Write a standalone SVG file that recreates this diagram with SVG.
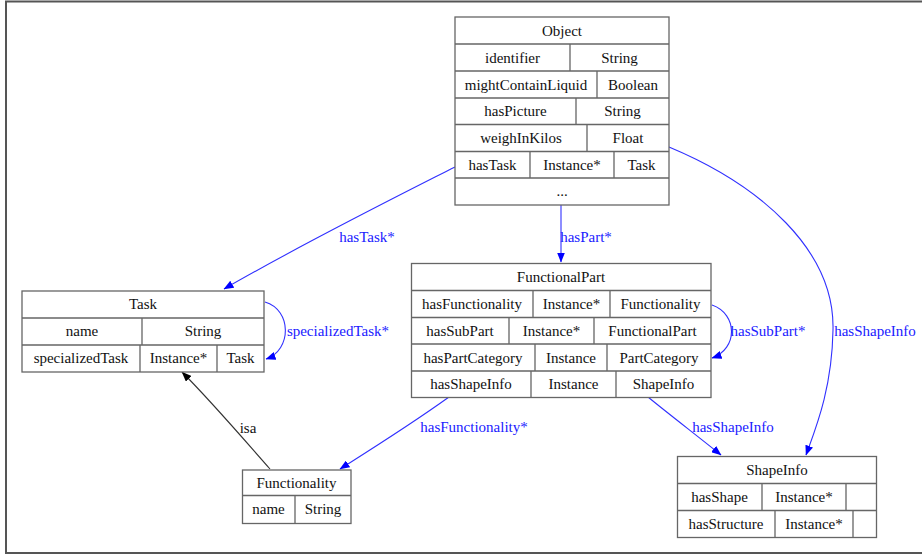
<svg xmlns="http://www.w3.org/2000/svg" width="922" height="555" viewBox="0 0 922 555">
<style>
.box{fill:#fff;stroke:#666;stroke-width:1.3}
.ln{stroke:#666;stroke-width:1.3;fill:none}
.t{font-family:"Liberation Serif","Times New Roman",serif;font-size:15px;fill:#111;text-anchor:middle}
.lb{font-family:"Liberation Serif","Times New Roman",serif;font-size:15px;fill:#2020ff;text-anchor:middle}
.e{stroke:#3030ff;stroke-width:1.1;fill:none}
.k{stroke:#333;stroke-width:1.1;fill:none}
</style>
<defs>
<marker id="ab" markerWidth="10" markerHeight="8" refX="9.5" refY="4" orient="auto" markerUnits="userSpaceOnUse">
<path d="M0,0 L10,4 L0,8 Z" fill="#0000ff"/>
</marker>
<marker id="ak" markerWidth="10" markerHeight="8" refX="9.5" refY="4" orient="auto" markerUnits="userSpaceOnUse">
<path d="M0,0 L10,4 L0,8 Z" fill="#000"/>
</marker>
</defs>
<rect width="922" height="555" fill="#fff"/>
<path d="M922,1.5 L6,1.5 L6,553 L922,553" fill="none" stroke="#555" stroke-width="2"/>

<g id="connectors">
<path class="e" d="M455,167 C390,200 300,245 224,289" marker-end="url(#ab)"/>
<text class="lb" x="367" y="242">hasTask*</text>
<path class="e" d="M561,205 L561,262" marker-end="url(#ab)"/>
<text class="lb" x="586" y="242">hasPart*</text>
<path class="e" d="M669,147 C760,185 835,250 833,330 C832,390 815,430 806,455" marker-end="url(#ab)"/>
<text class="lb" x="875" y="336">hasShapeInfo</text>
<path class="e" d="M265,302 C292,310 292,350 266,359" marker-end="url(#ab)"/>
<text class="lb" x="338" y="336">specializedTask*</text>
<path class="e" d="M712,305 C738,314 738,349 712,358" marker-end="url(#ab)"/>
<text class="lb" x="768" y="336">hasSubPart*</text>
<path class="e" d="M449,397 C410,425 370,450 340,469" marker-end="url(#ab)"/>
<text class="lb" x="474" y="432">hasFunctionality*</text>
<path class="e" d="M648,397 C670,415 700,438 721,455" marker-end="url(#ab)"/>
<text class="lb" x="733" y="432">hasShapeInfo</text>
<path class="k" d="M270,469 C240,435 210,400 182,372" marker-end="url(#ak)"/>
<text class="t" x="248" y="433">isa</text>
</g>

<g id="Object">
<rect class="box" x="455" y="17" width="214" height="188"/>
<path class="ln" d="M455,44H669M455,71H669M455,98H669M455,124.5H669M455,151.5H669M455,178H669M570,44V71M597,71V98M576,98V124.5M587,124.5V151.5M530,151.5V178M614,151.5V178"/>
<text class="t" x="562" y="35.5">Object</text>
<text class="t" x="512.5" y="62.5">identifier</text>
<text class="t" x="619.5" y="62.5">String</text>
<text class="t" x="526" y="89.5">mightContainLiquid</text>
<text class="t" x="633" y="89.5">Boolean</text>
<text class="t" x="515.5" y="116">hasPicture</text>
<text class="t" x="622.5" y="116">String</text>
<text class="t" x="521" y="143">weighInKilos</text>
<text class="t" x="628" y="143">Float</text>
<text class="t" x="492.5" y="170">hasTask</text>
<text class="t" x="572" y="170">Instance*</text>
<text class="t" x="641.5" y="170">Task</text>
<text class="t" x="562" y="196">...</text>
</g>

<g id="Task">
<rect class="box" x="22" y="291" width="242" height="81"/>
<path class="ln" d="M22,318H264M22,345H264M142,318V345M140,345V372M217,345V372"/>
<text class="t" x="143" y="309">Task</text>
<text class="t" x="82" y="336">name</text>
<text class="t" x="203" y="336">String</text>
<text class="t" x="81" y="363">specializedTask</text>
<text class="t" x="178.5" y="363">Instance*</text>
<text class="t" x="240.5" y="363">Task</text>
</g>

<g id="FunctionalPart">
<rect class="box" x="411.5" y="263.5" width="299.5" height="134"/>
<path class="ln" d="M411.5,290.5H711M411.5,317.5H711M411.5,344H711M411.5,371H711M533,290.5V317.5M610,290.5V317.5M509,317.5V344M594,317.5V344M535,344V371M607,344V371M531,371V397.5M616,371V397.5"/>
<text class="t" x="561" y="282">FunctionalPart</text>
<text class="t" x="472" y="309">hasFunctionality</text>
<text class="t" x="571.5" y="309">Instance*</text>
<text class="t" x="660.5" y="309">Functionality</text>
<text class="t" x="460" y="335.5">hasSubPart</text>
<text class="t" x="551.5" y="335.5">Instance*</text>
<text class="t" x="652.5" y="335.5">FunctionalPart</text>
<text class="t" x="473" y="362.5">hasPartCategory</text>
<text class="t" x="571" y="362.5">Instance</text>
<text class="t" x="659" y="362.5">PartCategory</text>
<text class="t" x="471" y="389">hasShapeInfo</text>
<text class="t" x="573.5" y="389">Instance</text>
<text class="t" x="663.5" y="389">ShapeInfo</text>
</g>

<g id="Functionality">
<rect class="box" x="242.5" y="470" width="108.5" height="53.5"/>
<path class="ln" d="M242.5,495.5H351M295,495.5V523.5"/>
<text class="t" x="296.5" y="487.5">Functionality</text>
<text class="t" x="268.5" y="514">name</text>
<text class="t" x="323" y="514">String</text>
</g>

<g id="ShapeInfo">
<rect class="box" x="677.5" y="456.5" width="199" height="81"/>
<path class="ln" d="M677.5,483.5H876.5M677.5,510.5H876.5M762,483.5V510.5M846,483.5V510.5M775,510.5V537.5M853,510.5V537.5"/>
<text class="t" x="777" y="474.5">ShapeInfo</text>
<text class="t" x="719.5" y="501.5">hasShape</text>
<text class="t" x="804" y="501.5">Instance*</text>
<text class="t" x="726" y="528.5">hasStructure</text>
<text class="t" x="814" y="528.5">Instance*</text>
</g>
</svg>
